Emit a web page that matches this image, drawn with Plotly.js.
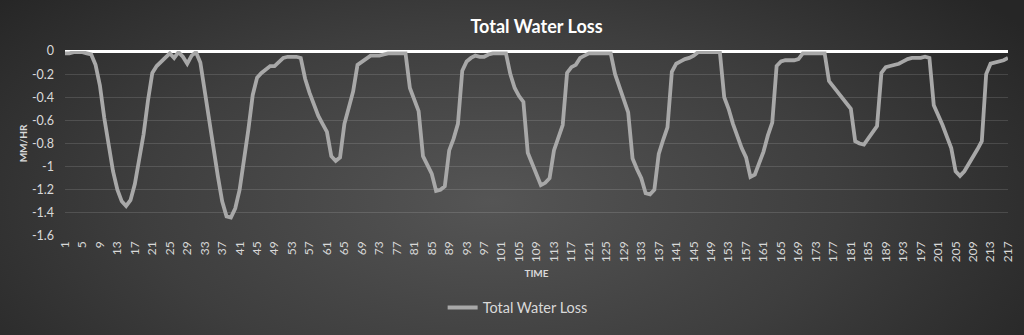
<!DOCTYPE html>
<html>
<head>
<meta charset="utf-8">
<script src="https://cdn.plot.ly/plotly-3.0.1.min.js"></script>
<style>
  html, body { margin: 0; padding: 0; }
  body { width: 1024px; height: 335px; overflow: hidden; }
  #chart {
    width: 1024px; height: 335px;
    background: radial-gradient(ellipse 62% 95% at 48% 60%, #555555 0%, #3e3e3e 55%, #262626 100%);
  }
</style>
</head>
<body>
<div id="chart"></div>
<script>
// Total water loss (MM/HR) per time step
const waterLoss = [
  -0.02, -0.02, -0.01, -0.01, -0.01, -0.02, -0.03, -0.12, -0.30, -0.58,
  -0.82, -1.04, -1.20, -1.30, -1.34, -1.29, -1.15, -0.95, -0.72, -0.43,
  -0.19, -0.13, -0.09, -0.06, -0.02, -0.06, -0.01, -0.05, -0.11, -0.04,
  -0.01, -0.10, -0.35, -0.62, -0.85, -1.08, -1.30, -1.43, -1.44, -1.36,
  -1.20, -0.95, -0.68, -0.38, -0.23, -0.19, -0.16, -0.13, -0.13, -0.09,
  -0.06, -0.05, -0.05, -0.05, -0.06, -0.24, -0.36, -0.47, -0.56, -0.63,
  -0.70, -0.91, -0.95, -0.92, -0.63, -0.49, -0.35, -0.12, -0.09, -0.07,
  -0.04, -0.04, -0.04, -0.03, -0.02, -0.02, -0.02, -0.02, -0.02, -0.32,
  -0.42, -0.52, -0.91, -0.98, -1.06, -1.21, -1.20, -1.17, -0.86, -0.76,
  -0.63, -0.17, -0.09, -0.06, -0.04, -0.05, -0.05, -0.03, -0.02, -0.02,
  -0.02, -0.02, -0.20, -0.32, -0.39, -0.44, -0.88, -0.98, -1.07, -1.16,
  -1.14, -1.10, -0.86, -0.76, -0.64, -0.19, -0.14, -0.12, -0.06, -0.04,
  -0.02, -0.02, -0.02, -0.02, -0.02, -0.02, -0.20, -0.30, -0.42, -0.53,
  -0.93, -1.02, -1.10, -1.23, -1.24, -1.20, -0.89, -0.77, -0.66, -0.18,
  -0.11, -0.09, -0.07, -0.06, -0.04, -0.01, -0.01, -0.01, -0.01, -0.01,
  -0.01, -0.40, -0.50, -0.63, -0.74, -0.84, -0.92, -1.09, -1.07, -0.97,
  -0.87, -0.73, -0.62, -0.13, -0.09, -0.08, -0.08, -0.08, -0.07, -0.02,
  -0.02, -0.02, -0.02, -0.02, -0.02, -0.26, -0.31, -0.36, -0.41, -0.45,
  -0.50, -0.78, -0.80, -0.81, -0.76, -0.71, -0.65, -0.19, -0.14, -0.13,
  -0.12, -0.11, -0.09, -0.07, -0.06, -0.06, -0.06, -0.05, -0.06, -0.47,
  -0.55, -0.64, -0.74, -0.84, -1.04, -1.08, -1.04, -0.98, -0.92, -0.85,
  -0.78, -0.20, -0.11, -0.10, -0.09, -0.08, -0.06
];
// time step categories 1..N (one per reading)
const timeSteps = waterLoss.map((_, i) => i + 1);
// every 4th time step is labelled
const timeTicks = timeSteps.filter(t => (t - 1) % 4 === 0);
const yTicks = [0, -0.2, -0.4, -0.6, -0.8, -1, -1.2, -1.4, -1.6];
const yTickText = ['0', '-0.2', '-0.4', '-0.6', '-0.8', '-1', '-1.2', '-1.4', '-1.6'];

const FONT = 'Lato, "Open Sans", sans-serif';
const LABEL = '#d9d9d9';

const trace = {
  x: timeSteps,
  y: waterLoss,
  type: 'scatter',
  mode: 'lines',
  name: 'Total Water Loss',
  line: { color: '#a8a8a8', width: 3.8 },
  hoverinfo: 'x+y'
};

const layout = {
  width: 1024,
  height: 335,
  paper_bgcolor: 'rgba(0,0,0,0)',
  plot_bgcolor: 'rgba(0,0,0,0)',
  margin: { l: 65, r: 16, t: 51.5, b: 95 },
  font: { family: FONT, color: LABEL },
  title: {
    text: '<b>Total Water Loss</b>',
    font: { family: FONT, size: 18, color: '#ffffff' },
    x: 0.5, xanchor: 'center', xref: 'paper',
    y: 1 - 27 / 335, yanchor: 'middle', yref: 'container'
  },
  xaxis: {
    type: 'linear',
    range: [1, 217],
    tickmode: 'array',
    tickvals: timeTicks,
    ticktext: timeTicks.map(String),
    tickangle: -90,
    tickfont: { family: FONT, size: 12, color: LABEL },
    ticks: '',
    ticklabelstandoff: 2,
    showgrid: false,
    zeroline: false,
    showline: false,
    title: { text: '<b>TIME</b>', font: { family: FONT, size: 10, color: LABEL }, standoff: 8 }
  },
  yaxis: {
    range: [-1.6, 0],
    tickmode: 'array',
    tickvals: yTicks,
    ticktext: yTickText,
    tickfont: { family: FONT, size: 12.5, color: LABEL },
    ticks: '',
    ticklabelstandoff: 10,
    showgrid: true,
    gridcolor: 'rgba(255,255,255,0.13)',
    gridwidth: 1,
    zeroline: true,
    zerolinecolor: '#ffffff',
    zerolinewidth: 3,
    showline: false,
    title: { text: '<b>MM/HR</b>', font: { family: FONT, size: 10, color: LABEL }, standoff: 2 }
  },
  showlegend: true,
  legend: {
    orientation: 'h',
    x: 0.48, xanchor: 'center',
    y: -0.387, yanchor: 'middle',
    font: { family: FONT, size: 14.5, color: LABEL },
    bgcolor: 'rgba(0,0,0,0)'
  }
};

Plotly.newPlot('chart', [trace], layout, { displayModeBar: false, staticPlot: true });
</script>
</body>
</html>
